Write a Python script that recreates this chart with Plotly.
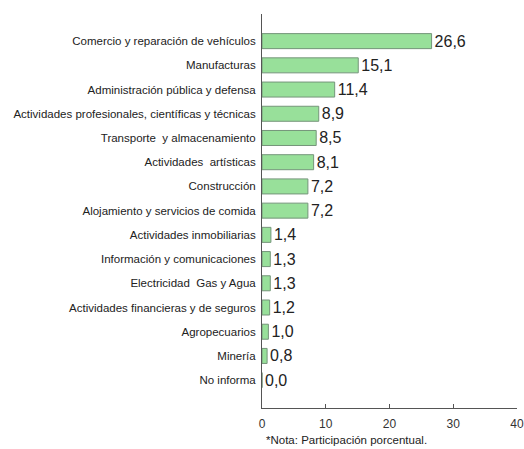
import plotly.graph_objects as go

categories = [
    "Comercio y reparación de vehículos",
    "Manufacturas",
    "Administración pública y defensa",
    "Actividades profesionales, científicas y técnicas",
    "Transporte  y almacenamiento",
    "Actividades  artísticas",
    "Construcción",
    "Alojamiento y servicios de comida",
    "Actividades inmobiliarias",
    "Información y comunicaciones",
    "Electricidad  Gas y Agua",
    "Actividades financieras y de seguros",
    "Agropecuarios",
    "Minería",
    "No informa",
]
values = [26.6, 15.1, 11.4, 8.9, 8.5, 8.1, 7.2, 7.2, 1.4, 1.3, 1.3, 1.2, 1.0, 0.8, 0.0]
x_ticks = [0, 10, 20, 30, 40]
note = "*Nota: Participación porcentual."

labels = [f"{v:.1f}".replace(".", ",") for v in values]

fig = go.Figure(go.Bar(
    x=values,
    y=categories,
    orientation="h",
    text=labels,
    textposition="outside",
    constraintext="none",
    cliponaxis=False,
    textfont=dict(family="Liberation Sans, Arial, sans-serif", size=16, color="#222222"),
    marker=dict(color="#98e09a", line=dict(color="#75957a", width=1)),
    width=0.62,
))

fig.update_layout(
    width=524, height=449,
    margin=dict(l=262, r=7, t=14, b=41),
    paper_bgcolor="white", plot_bgcolor="white",
    showlegend=False,
    font=dict(family="Liberation Sans, Arial, sans-serif", color="#222222"),
    xaxis=dict(
        range=[0, 40.0], tickvals=x_ticks, ticktext=[str(t) for t in x_ticks],
        automargin=False,
        showgrid=False, zeroline=False, showline=True, linecolor="#555555", linewidth=1,
        ticks="inside", ticklen=4, tickcolor="#555555",
        ticklabelstandoff=5,
        tickfont=dict(size=12, color="#333333"),
    ),
    yaxis=dict(
        categoryorder="array", categoryarray=categories,
        range=[len(categories) - 1 + 1.15, -1.12],
        automargin=False,
        showgrid=False, zeroline=False, showline=True, linecolor="#555555", linewidth=1,
        ticks="", ticklabelstandoff=3,
        tickfont=dict(size=11.5, color="#222222"),
    ),
    annotations=[dict(
        text=note, xref="paper", yref="paper", x=0.0, y=0, yshift=-32,
        xanchor="left", yanchor="middle", xshift=2, showarrow=False,
        font=dict(size=11.5, color="#222222"),
    )],
)

fig.write_html(
    "out.html",
    config={"displayModeBar": False},
    post_script="document.body.style.margin='0';document.body.style.overflow='hidden';",
)
